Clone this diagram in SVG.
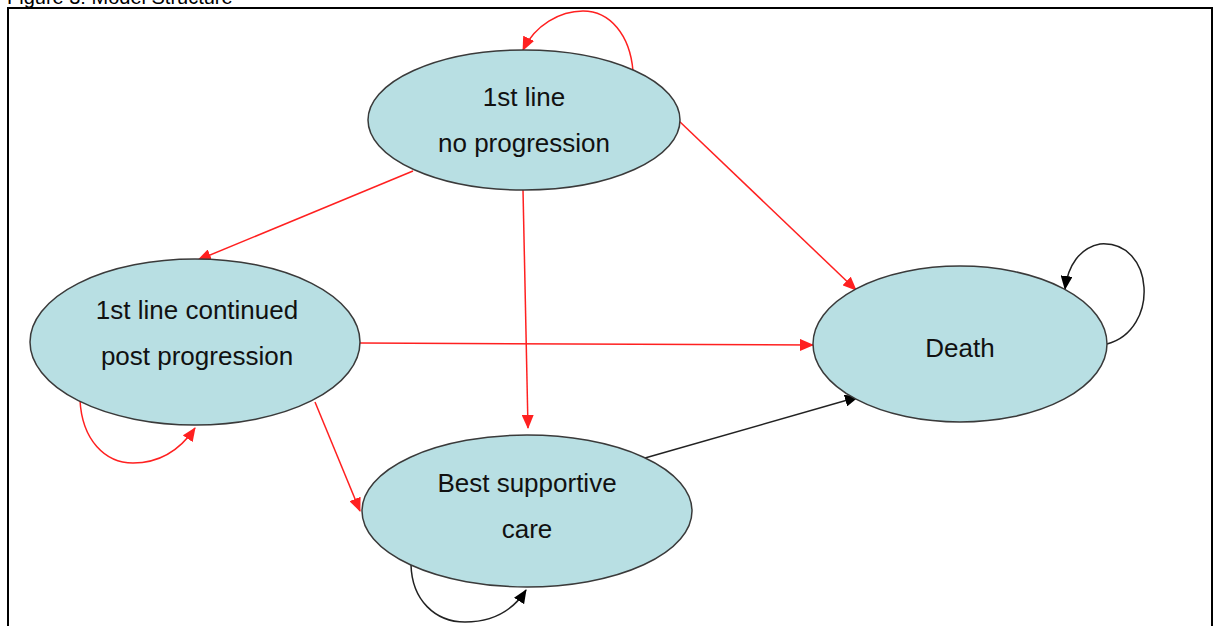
<svg xmlns="http://www.w3.org/2000/svg" width="1214" height="626" viewBox="0 0 1214 626">
<style>
.node ellipse{fill:#B8DFE3;stroke:#3a3a3a;stroke-width:1.5}
.node text{font-family:"Liberation Sans",Arial,sans-serif;font-size:26px;fill:#111;text-anchor:middle}
.red{stroke:#FF2020;stroke-width:1.5;fill:none;marker-end:url(#ar)}
.blk{stroke:#222;stroke-width:1.5;fill:none;marker-end:url(#ab)}
</style>
<defs>
<marker id="ar" markerUnits="userSpaceOnUse" markerWidth="14" markerHeight="12" refX="13" refY="6" orient="auto"><path d="M0,0 L14,6 L0,12 Z" fill="#FF2020"/></marker>
<marker id="ab" markerUnits="userSpaceOnUse" markerWidth="14" markerHeight="12" refX="13" refY="6" orient="auto"><path d="M0,0 L14,6 L0,12 Z" fill="#000"/></marker>
</defs>
<rect width="1214" height="626" fill="#fff"/>
<text x="7" y="4" font-family="Liberation Sans,Arial,sans-serif" font-size="20" fill="#000">Figure 3: Model Structure</text>
<path d="M8,630 V8 H1212 V630" fill="none" stroke="#000" stroke-width="2"/>
<g id="connectors">
<path class="red" d="M633,71 C630,35 610,11 583,11 C560,11 535,25 523,50"/>
<path class="red" d="M413,171 L198,260"/>
<path class="red" d="M523,190 L528,428"/>
<path class="red" d="M678,120 L856,290"/>
<path class="red" d="M360,343 L813,345"/>
<path class="red" d="M315,402 L360,511"/>
<path class="red" d="M80,400 C82,440 105,463 133,463 C160,463 180,450 195,428"/>
<path class="blk" d="M645,458 L858,397"/>
<path class="blk" d="M1107,344 C1160,330 1155,240 1100,244 C1080,248 1068,265 1065,289"/>
<path class="blk" d="M411,565 C412,600 435,622 465,622 C490,622 512,612 526,590"/>
</g>
<g id="n1" class="node"><ellipse cx="524" cy="120" rx="156" ry="70"/><text x="524" y="106">1st line</text><text x="524" y="152">no progression</text></g>
<g id="n2" class="node"><ellipse cx="195" cy="342" rx="165" ry="83"/><text x="197" y="319">1st line continued</text><text x="197" y="365">post progression</text></g>
<g id="n3" class="node"><ellipse cx="527" cy="511" rx="165" ry="76"/><text x="527" y="492">Best supportive</text><text x="527" y="538">care</text></g>
<g id="n4" class="node"><ellipse cx="960" cy="344" rx="147" ry="78"/><text x="960" y="357">Death</text></g>
</svg>
